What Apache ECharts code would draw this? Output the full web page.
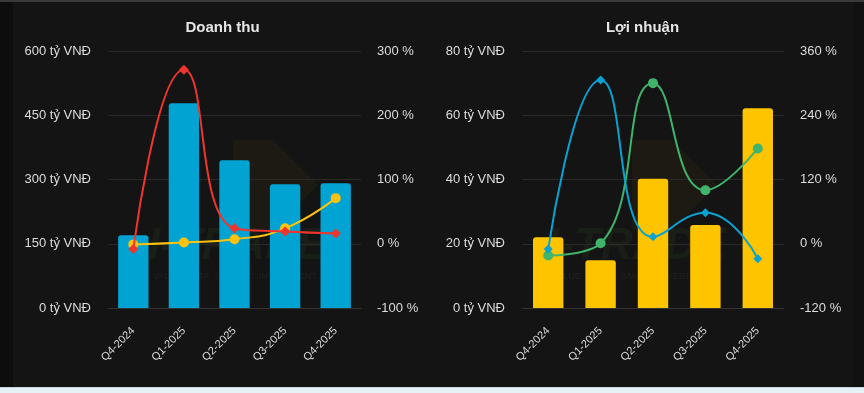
<!DOCTYPE html>
<html>
<head>
<meta charset="utf-8">
<script src="https://cdn.jsdelivr.net/npm/echarts@6/dist/echarts.min.js"></script>
<style>
html,body{margin:0;padding:0;background:#141414;width:864px;height:393px;overflow:hidden;}
#wrap{position:absolute;left:0;top:0;width:864px;height:387px;overflow:hidden;background:#141414;}
#topline{position:absolute;left:0;top:0;width:864px;height:2px;background:#3a3a3a;z-index:5;}
#leftstrip{position:absolute;left:0;top:0;width:13px;height:387px;background:#0d0d0d;}
#rightstrip{position:absolute;left:853px;top:0;width:11px;height:387px;background:#111111;}
#c1{position:absolute;left:13px;top:0;width:419px;height:420px;}
#c2{position:absolute;left:432px;top:0;width:421px;height:420px;}
#bottom{position:absolute;left:0;top:387px;width:864px;height:6px;background:#e6f1f7;border-top:1px solid #c9d6de;box-sizing:border-box;}
</style>
</head>
<body>
<div id="wrap">
  <div id="leftstrip"></div>
  <div id="c1"></div>
  <div id="c2"></div>
  <div id="rightstrip"></div>
  <div id="topline"></div>
</div>
<div id="bottom"></div>
<script>
// ---- Data ----
const categories = ['Q4-2024', 'Q1-2025', 'Q2-2025', 'Q3-2025', 'Q4-2025'];

const revenue = [170, 478, 345, 289, 291];          // tỷ VNĐ
const revenueGrowthRed = [-8, 271, 24, 19, 16];      // %
const revenueGrowthYellow = [-1, 2, 7, 24, 71];      // %

const profit = [22.0, 14.9, 40.2, 25.8, 62.2];       // tỷ VNĐ
const profitGrowthBlue = [-10, 306, 13, 58, -28];    // %
const profitGrowthGreen = [-22, 1, 300, 100, 178];   // %

const leftTicks1 = {min: 0, max: 600, interval: 150};
const rightTicks1 = {min: -100, max: 300, interval: 100};
const leftTicks2 = {min: 0, max: 80, interval: 20};
const rightTicks2 = {min: -120, max: 360, interval: 120};

const FONT = '"Liberation Sans", Arial, sans-serif';
const labelColor = '#dcdcdc';

function watermark(cx, cy) {
  return [
    {type: 'polygon', z: 0, left: cx - 10, top: cy - 75,
      shape: {points: [[0, 0], [40, 0], [85, 45], [40, 90], [0, 90]]},
      style: {fill: 'rgba(90,75,20,0.12)'}},
    {type: 'text', z: 0, left: cx - 95, top: cy + 10,
      style: {text: 'I-TRADE', font: 'italic bold 44px ' + FONT, fill: 'rgba(45,70,35,0.22)'}},
    {type: 'text', z: 0, left: cx - 90, top: cy + 57,
      style: {text: 'VALUE  DATA  -  SMART  INVESTMENT', font: '9px ' + FONT, fill: 'rgba(70,70,70,0.25)'}}
  ];
}

function makeOption(cfg) {
  return {
    backgroundColor: 'transparent',
    animation: false,
    textStyle: {fontFamily: FONT},
    title: {
      text: cfg.title, left: 'center', top: 15,
      textStyle: {color: '#e6e6e6', fontSize: 15, fontWeight: 'bold', fontFamily: FONT}
    },
    graphic: watermark(cfg.wmx, 215),
    legend: {
      top: 383, left: 24, icon: 'circle', itemWidth: 12, itemHeight: 12,
      textStyle: {color: labelColor, fontSize: 12},
      data: cfg.legend
    },
    grid: {left: cfg.gridLeft, top: 51, width: cfg.gridWidth, height: 257},
    xAxis: {
      type: 'category', data: categories,
      axisLine: {lineStyle: {color: '#333333'}},
      axisTick: {show: false},
      axisLabel: {color: labelColor, fontSize: 11, rotate: 45, margin: 21, fontFamily: FONT}
    },
    yAxis: [
      {
        type: 'value', min: cfg.lt.min, max: cfg.lt.max, interval: cfg.lt.interval,
        axisLine: {show: false}, axisTick: {show: false},
        splitLine: {lineStyle: {color: '#2a2a2a'}},
        axisLabel: {color: labelColor, fontSize: 13, margin: 17, formatter: '{value} tỷ VNĐ', fontFamily: FONT}
      },
      {
        type: 'value', min: cfg.rt.min, max: cfg.rt.max, interval: cfg.rt.interval,
        axisLine: {show: false}, axisTick: {show: false},
        splitLine: {show: false},
        axisLabel: {color: labelColor, fontSize: 13, margin: 16, formatter: '{value} %', fontFamily: FONT}
      }
    ],
    series: cfg.series
  };
}

const c1 = echarts.init(document.getElementById('c1'));
c1.setOption(makeOption({
  title: 'Doanh thu', gridLeft: 95, gridWidth: 253, wmx: 230,
  lt: leftTicks1, rt: rightTicks1,
  legend: ['Doanh thu', 'Tăng trưởng YoY', 'Tăng trưởng QoQ'],
  series: [
    {name: 'Doanh thu', type: 'bar', data: revenue, barWidth: '60%', z: 2,
      itemStyle: {color: '#00a3d2', borderRadius: [3, 3, 0, 0]}},
    {name: 'Tăng trưởng YoY', type: 'line', yAxisIndex: 1, data: revenueGrowthRed, smooth: true, z: 4,
      symbol: 'diamond', symbolSize: 10, lineStyle: {width: 2, color: '#f0352f'}, itemStyle: {color: '#f0352f'}},
    {name: 'Tăng trưởng QoQ', type: 'line', yAxisIndex: 1, data: revenueGrowthYellow, smooth: true, z: 3,
      symbol: 'circle', symbolSize: 10, lineStyle: {width: 2, color: '#ffc20e'}, itemStyle: {color: '#ffc20e'}}
  ]
}));

const c2 = echarts.init(document.getElementById('c2'));
c2.setOption(makeOption({
  title: 'Lợi nhuận', gridLeft: 90, gridWidth: 262, wmx: 210,
  lt: leftTicks2, rt: rightTicks2,
  legend: ['Lợi nhuận', 'Tăng trưởng YoY', 'Tăng trưởng QoQ'],
  series: [
    {name: 'Lợi nhuận', type: 'bar', data: profit, barWidth: '58%', z: 2,
      itemStyle: {color: '#ffc400', borderRadius: [3, 3, 0, 0]}},
    {name: 'Tăng trưởng YoY', type: 'line', yAxisIndex: 1, data: profitGrowthBlue, smooth: true, z: 4,
      symbol: 'diamond', symbolSize: 9, lineStyle: {width: 2, color: '#0aa2d3'}, itemStyle: {color: '#0aa2d3'}},
    {name: 'Tăng trưởng QoQ', type: 'line', yAxisIndex: 1, data: profitGrowthGreen, smooth: true, z: 3,
      symbol: 'circle', symbolSize: 10, lineStyle: {width: 2, color: '#3fb46a'}, itemStyle: {color: '#3fb46a'}}
  ]
}));
</script>
</body>
</html>
